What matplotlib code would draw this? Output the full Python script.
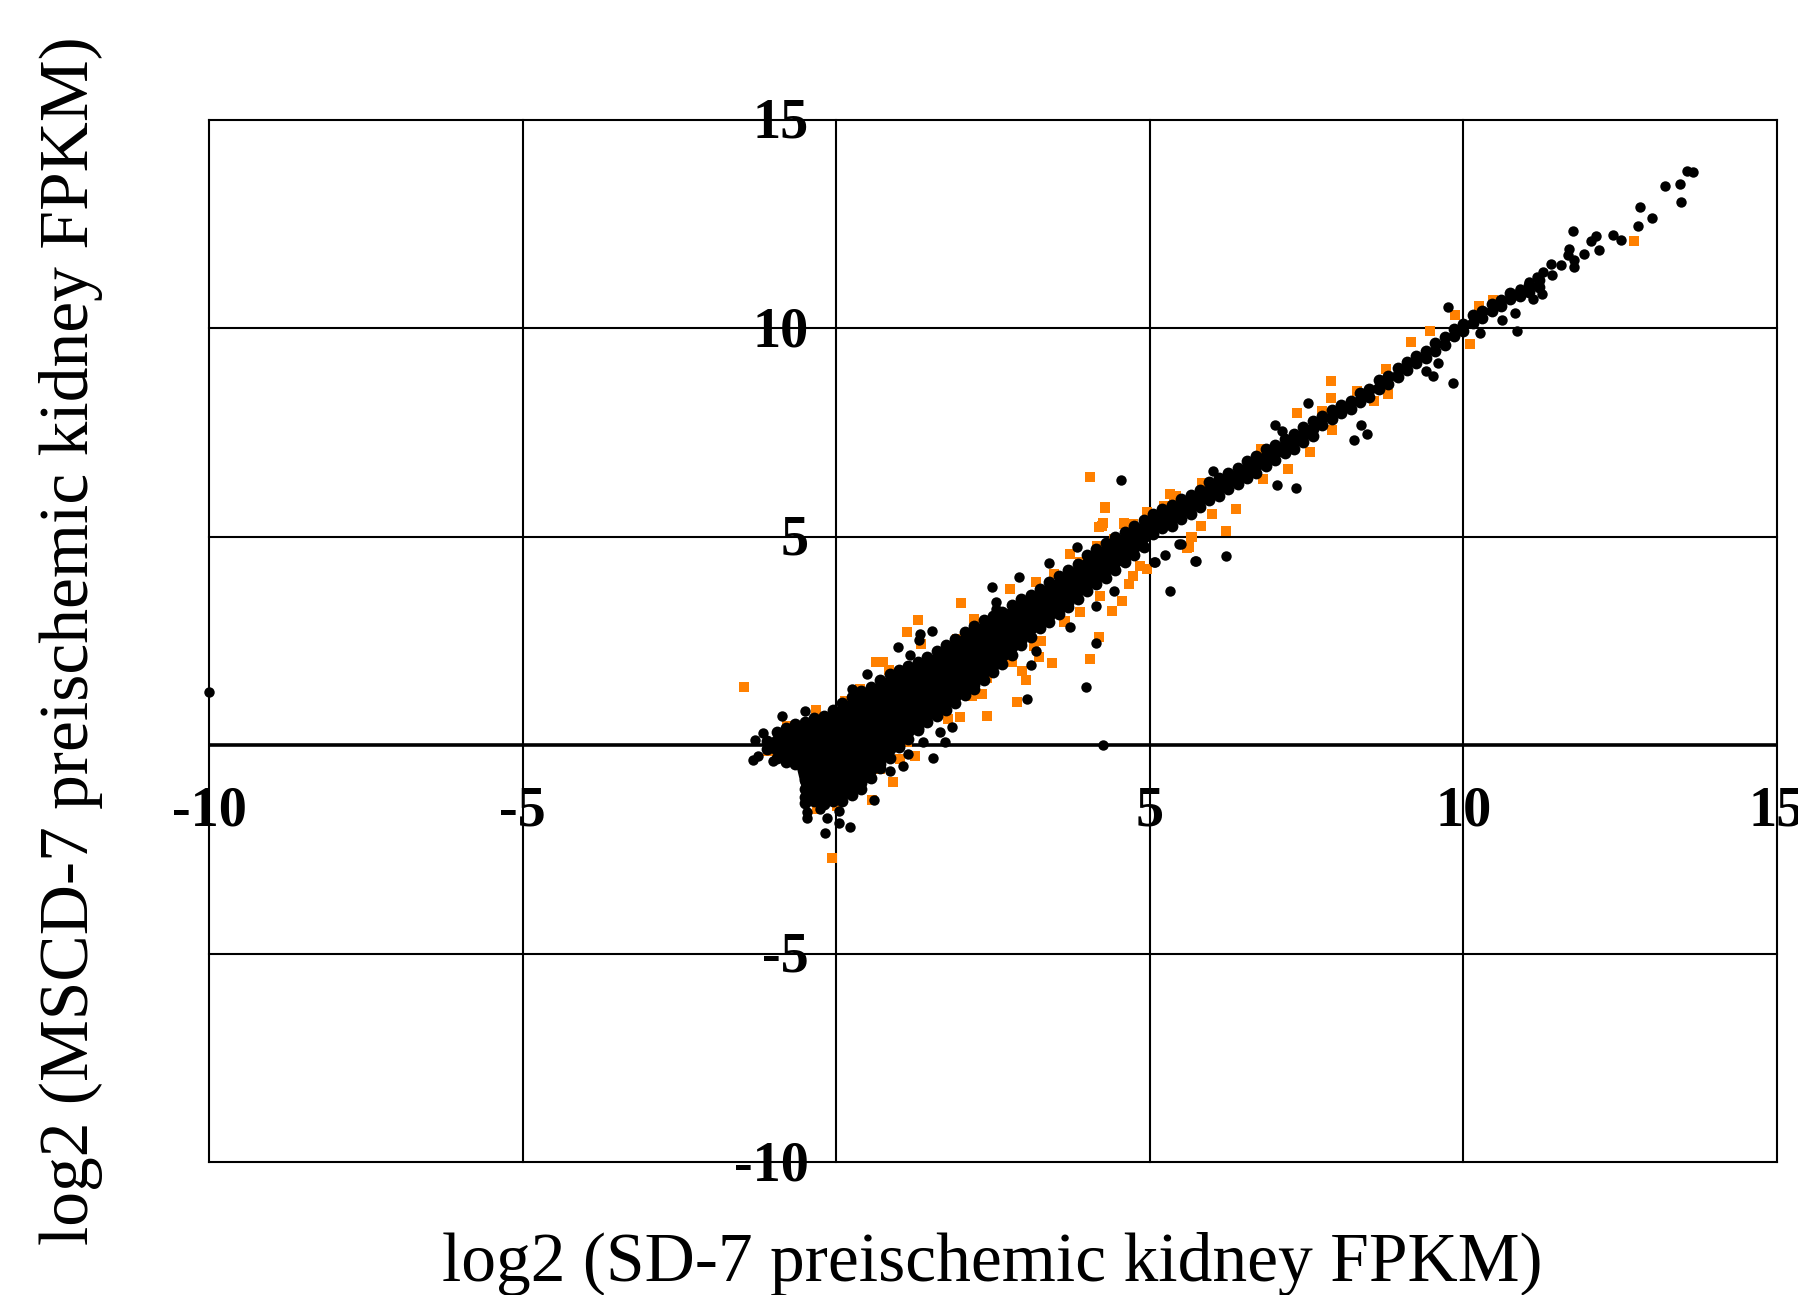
import matplotlib
matplotlib.use('Agg')
import matplotlib.pyplot as plt

col_x = [-1.1, -0.95, -0.8, -0.65, -0.5, -0.35, -0.2, -0.05, 0.1, 0.25, 0.4, 0.55, 0.7, 0.85,
         1.0, 1.15, 1.3, 1.45, 1.6, 1.75, 1.9, 2.05, 2.2, 2.35, 2.5, 2.65, 2.8, 2.95, 3.1, 3.25,
         3.4, 3.55, 3.7, 3.85, 4.0, 4.15, 4.3, 4.45, 4.6, 4.75, 4.9, 5.05, 5.2,
         5.35, 5.5, 5.65, 5.8, 5.95, 6.1, 6.25, 6.4, 6.55, 6.7, 6.85, 7.0, 7.15, 7.3, 7.45, 7.6,
         7.75, 7.9, 8.05, 8.2, 8.35, 8.5, 8.65, 8.8, 8.95, 9.1, 9.25, 9.4, 9.55, 9.7, 9.85, 10.0,
         10.15, 10.3, 10.45, 10.6, 10.75, 10.9, 11.05, 11.2]
col_y = [
    [0.1, -0.1],
    [0.3, 0.1, -0.1, -0.3],
    [0.4, 0.2, 0.0, -0.2, -0.4],
    [0.5, 0.3, 0.1, -0.1, -0.3, -0.45],
    [0.55, 0.35, 0.15, -0.05, -0.25, -0.45, -0.65, -0.85, -1.05, -1.25, -1.38],
    [0.65, 0.45, 0.25, 0.05, -0.15, -0.35, -0.55, -0.75, -0.95, -1.15, -1.35],
    [0.7, 0.5, 0.3, 0.1, -0.1, -0.3, -0.5, -0.7, -0.9, -1.1, -1.3, -1.42],
    [0.85, 0.65, 0.45, 0.25, 0.05, -0.15, -0.35, -0.55, -0.75, -0.95, -1.15, -1.35],
    [1.0, 0.8, 0.6, 0.4, 0.2, 0.0, -0.2, -0.4, -0.6, -0.8, -1.0, -1.2, -1.35],
    [1.15, 0.95, 0.75, 0.55, 0.35, 0.15, -0.05, -0.25, -0.45, -0.65, -0.85, -1.05, -1.2],
    [1.3, 1.1, 0.9, 0.7, 0.5, 0.3, 0.1, -0.1, -0.3, -0.5, -0.7, -0.9, -1.05],
    [1.4, 1.2, 1.0, 0.8, 0.6, 0.4, 0.2, 0.0, -0.2, -0.4, -0.6, -0.8],
    [1.55, 1.35, 1.15, 0.95, 0.75, 0.55, 0.35, 0.15, -0.05, -0.25, -0.45, -0.55],
    [1.7, 1.5, 1.3, 1.1, 0.9, 0.7, 0.5, 0.3, 0.1, -0.1, -0.3],
    [1.8, 1.6, 1.4, 1.2, 1.0, 0.8, 0.6, 0.4, 0.2, 0.0, -0.05],
    [1.9, 1.7, 1.5, 1.3, 1.1, 0.9, 0.7, 0.5, 0.3, 0.15],
    [2.0, 1.8, 1.6, 1.4, 1.2, 1.0, 0.8, 0.6, 0.4, 0.35],
    [2.1, 1.9, 1.7, 1.5, 1.3, 1.1, 0.9, 0.7, 0.55],
    [2.25, 2.05, 1.85, 1.65, 1.45, 1.25, 1.05, 0.85, 0.7],
    [2.4, 2.2, 2.0, 1.8, 1.6, 1.4, 1.2, 1.0, 0.85],
    [2.55, 2.35, 2.15, 1.95, 1.75, 1.55, 1.35, 1.15, 1.0],
    [2.7, 2.5, 2.3, 2.1, 1.9, 1.7, 1.5, 1.3, 1.2],
    [2.85, 2.65, 2.45, 2.25, 2.05, 1.85, 1.65, 1.45, 1.35],
    [3.0, 2.8, 2.6, 2.4, 2.2, 2.0, 1.8, 1.55],
    [3.1, 2.9, 2.7, 2.5, 2.3, 2.1, 1.9, 1.75],
    [3.2, 3.0, 2.8, 2.6, 2.4, 2.2, 1.95],
    [3.35, 3.15, 2.95, 2.75, 2.55, 2.35, 2.15],
    [3.5, 3.3, 3.1, 2.9, 2.7, 2.5, 2.4],
    [3.6, 3.4, 3.2, 3.0, 2.8, 2.6],
    [3.75, 3.55, 3.35, 3.15, 2.95, 2.8],
    [3.9, 3.7, 3.5, 3.3, 3.1, 2.95],
    [4.05, 3.85, 3.65, 3.45, 3.25, 3.15],
    [4.2, 4.0, 3.8, 3.6, 3.4, 3.3],
    [4.35, 4.15, 3.95, 3.75, 3.5],
    [4.55, 4.35, 4.15, 3.95, 3.7],
    [4.7, 4.5, 4.3, 4.1, 3.85],
    [4.85, 4.65, 4.45, 4.25, 4.0],
    [5.0, 4.8, 4.6, 4.4, 4.2],
    [5.1, 4.9, 4.7, 4.5, 4.4],
    [5.25, 5.05, 4.85, 4.55],
    [5.4, 5.2, 5.0, 4.75],
    [5.55, 5.3, 5.05],
    [5.65, 5.45, 5.2],
    [5.75, 5.5, 5.25],
    [5.9, 5.65, 5.42],
    [6.0, 5.78, 5.55],
    [6.12, 5.9, 5.7],
    [6.3, 6.08, 5.88],
    [6.4, 6.2, 5.98],
    [6.52, 6.33, 6.15],
    [6.65, 6.45, 6.26],
    [6.8, 6.6, 6.4],
    [6.92, 6.72, 6.53],
    [7.1, 6.9, 6.7],
    [7.2, 7.0, 6.83],
    [7.35, 7.17, 7.0],
    [7.47, 7.3, 7.1],
    [7.62, 7.45, 7.27],
    [7.76, 7.58, 7.4],
    [7.9, 7.68],
    [8.03, 7.82],
    [8.16, 7.95],
    [8.26, 8.06],
    [8.44, 8.22],
    [8.54, 8.34],
    [8.76, 8.54],
    [8.86, 8.66],
    [9.04, 8.82],
    [9.18, 9.0],
    [9.33, 9.15],
    [9.45, 9.27],
    [9.63, 9.45],
    [9.78, 9.6],
    [9.98, 9.82],
    [10.09, 9.93],
    [10.3, 10.13],
    [10.4, 10.25],
    [10.57, 10.4],
    [10.68, 10.53],
    [10.84, 10.7],
    [10.87, 10.76],
    [11.02, 10.86],
    [11.14, 10.98],
]

# scattered black dots outside the dense band
black_x = [-10.0, 4.54, 3.84, 3.40, 2.92, 2.48, 2.55, 2.54, 1.53, 1.33, 1.32, 0.99, 1.18, 0.49, 0.25,
           -0.49, -0.87, -1.17, -1.29, -1.32, -1.24, -1.0, 4.25, 3.98, 3.04, 3.10, 3.18, 4.14, 3.72,
           5.32, 5.74, 5.09, 5.25, 5.49, 4.14, 4.43, 1.54, 1.85, 1.74, 1.66, 1.39, 1.06, 0.86, 1.15,
           0.61, 0.22, -0.18, 0.04, -0.47, -0.14, -0.47, 0.04, -0.26,
           13.57, 13.66, 13.46, 13.21, 13.47, 12.82, 13.01, 12.78, 11.75, 12.38, 12.51, 12.11, 12.04,
           11.92, 12.16, 11.69, 11.66, 11.76, 11.77, 11.55, 11.4, 11.41, 11.27, 11.17, 11.04, 11.26,
           11.11, 10.91, 10.83, 10.62, 10.85, 9.75, 10.26, 9.84, 9.51, 9.41, 9.6, 7.52, 7.0, 7.1,
           8.37, 8.47, 8.25, 7.03, 7.33, 6.01, 6.22, 5.72, 5.07, 5.47]
black_y = [1.27, 6.36, 4.76, 4.36, 4.02, 3.80, 3.42, 3.26, 2.74, 2.66, 2.52, 2.34, 2.15, 1.70, 1.35,
           0.82, 0.70, 0.28, 0.12, -0.36, -0.26, -0.38, 0.01, 1.40, 1.11, 1.91, 2.26, 2.44, 2.84,
           3.70, 4.42, 4.39, 4.55, 4.82, 3.34, 3.70, -0.30, 0.42, 0.07, 0.31, 0.07, -0.50, -0.62, -0.22,
           -1.32, -1.96, -2.12, -1.88, -1.74, -1.74, -1.61, -1.58, -1.54,
           13.76, 13.73, 13.46, 13.41, 13.01, 12.91, 12.64, 12.44, 12.32, 12.24, 12.11, 12.2, 12.09,
           11.77, 11.86, 11.9, 11.74, 11.62, 11.46, 11.5, 11.54, 11.27, 11.35, 11.22, 11.1, 10.82,
           10.7, 10.94, 10.35, 10.19, 9.94, 10.51, 9.88, 8.69, 8.85, 8.96, 9.17, 8.21, 7.67, 7.53,
           7.67, 7.45, 7.32, 6.23, 6.17, 6.57, 4.53, 4.41, 4.38, 4.81]

orange_x = [4.05, 4.29, 4.26, 4.19, 4.59, 4.73, 3.72, 2.77, 3.18, 1.99, 1.31, 1.13, 1.35, 0.63, 0.74, 0.84,
            -1.47, -0.32, 4.56, 4.40, 4.67, 4.19, 4.04, 3.44, 3.23, 3.02, 2.96, 2.88, 2.40, 1.98, 1.79,
            2.16, 2.32, 2.41, 2.80, 0.90, 1.26, -0.07, 0.57, -0.31, 0.01, -1.08, 5.62, 5.68, 5.41, 5.22,
            5.01, 4.43, 4.74, 3.89, 3.65, 3.26,
            12.72, 10.1, 9.86, 10.25, 10.47, 9.47, 9.17, 7.89, 7.89, 7.34, 8.79, 8.58, 7.91, 7.56, 7.21,
            6.81, 6.77, 6.21, 6.38, 5.83, 5.39, 5.01, 4.28, 4.59, 4.23, 5.6, 5.65, 5.81, 5.99, 8.76,
            8.3, 7.75,
            4.16, 3.89, 3.47, 2.62, 2.19, 1.93, 0.14, 0.38, -0.79, 1.02, 0.70, 1.13, 1.66, 4.96, 4.85,
            4.21, 3.63, 3.15, 5.33, 4.96, 4.48]
orange_y = [6.42, 5.70, 5.32, 5.22, 5.32, 5.30, 4.58, 3.75, 3.91, 3.40, 2.99, 2.70, 2.43, 2.0, 1.98, 1.8,
            1.40, 0.84, 3.46, 3.22, 3.86, 2.58, 2.07, 1.96, 2.10, 1.56, 1.78, 1.04, 0.70, 0.68, 0.62,
            1.18, 1.22, 1.60, 1.98, -0.88, -0.26, -2.70, -1.32, -1.54, -1.46, -0.14, 4.74, 4.98, 5.98, 5.74,
            5.54, 4.94, 4.06, 3.18, 2.98, 2.5,
            12.09, 9.62, 10.32, 10.52, 10.68, 9.94, 9.66, 8.73, 8.33, 7.95, 8.41, 8.25, 7.55, 7.03, 6.61,
            6.39, 7.11, 5.14, 5.66, 6.29, 5.97, 5.53, 5.69, 5.30, 5.25, 4.73, 4.99, 5.25, 5.53, 9.01,
            8.49, 8.01,
            4.78, 4.38, 4.10, 3.14, 3.02, 2.54, 1.06, 1.34, 0.46, -0.34, -0.58, 0.06, 0.82, 4.22, 4.30,
            3.58, 2.94, 2.38, 6.02, 5.58, 4.86]

x_ticks = [-10, -5, 5, 10, 15]
y_ticks = [-10, -5, 5, 10, 15]
grid_x = [-10, -5, 0, 5, 10, 15]
grid_y = [-10, -5, 5, 10, 15]

plt.rcParams['font.family'] = ['Liberation Serif', 'DejaVu Serif']

fig = plt.figure(figsize=(17.99, 12.95), dpi=100)
ax = fig.add_axes([209 / 1799, 1 - 1162 / 1295, (1777 - 209) / 1799, (1162 - 119.5) / 1295])
ax.set_xlim(-10, 15)
ax.set_ylim(-10, 15)
ax.set_xticks([])
ax.set_yticks([])

for g in grid_x:
    ax.axvline(g, color='black', lw=1.5, clip_on=False, zorder=1)
for g in grid_y:
    ax.axhline(g, color='black', lw=1.5, clip_on=False, zorder=1)
ax.axhline(0, color='black', lw=2.6, zorder=1)

for sp in ax.spines.values():
    sp.set_visible(False)

ax.plot(orange_x, orange_y, 's', color='#FF8000', ms=7.6, mew=0, zorder=2, clip_on=False)

dense_x = []
dense_y = []
for cx, ys in zip(col_x, col_y):
    for cy in ys:
        dense_x.append(cx)
        dense_y.append(cy)
# the overplotted dots leave no white inside the cloud
ax.fill_between(col_x, [max(ys) for ys in col_y], [min(ys) for ys in col_y], color='black', lw=0, zorder=3)
ax.plot(dense_x, dense_y, 'o', color='black', ms=8.5, mew=0, zorder=3)
ax.plot(black_x, black_y, 'o', color='black', ms=7.5, mew=0, zorder=3, clip_on=False)

# tick labels sit on the zero lines, not at the edge of the plot
for t in x_ticks:
    ax.annotate(str(t), (t, 0), xytext=(0, -29), textcoords='offset points', ha='center', va='top',
                fontsize=40.5, fontweight='bold', annotation_clip=False, zorder=4)
for t in y_ticks:
    ax.annotate(str(t), (0, t), xytext=(-20, -3), textcoords='offset points', ha='right', va='center',
                fontsize=40.5, fontweight='bold', annotation_clip=False, zorder=4)

fig.text(992 / 1799, 1 - 1264 / 1295, 'log2 (SD-7 preischemic kidney FPKM)', ha='center', va='center', fontsize=50)
fig.text(71.5 / 1799, 1 - 641 / 1295, 'log2 (MSCD-7 preischemic kidney FPKM)', ha='center', va='center',
         rotation=90, fontsize=50)

fig.savefig('out.png', dpi=100)
